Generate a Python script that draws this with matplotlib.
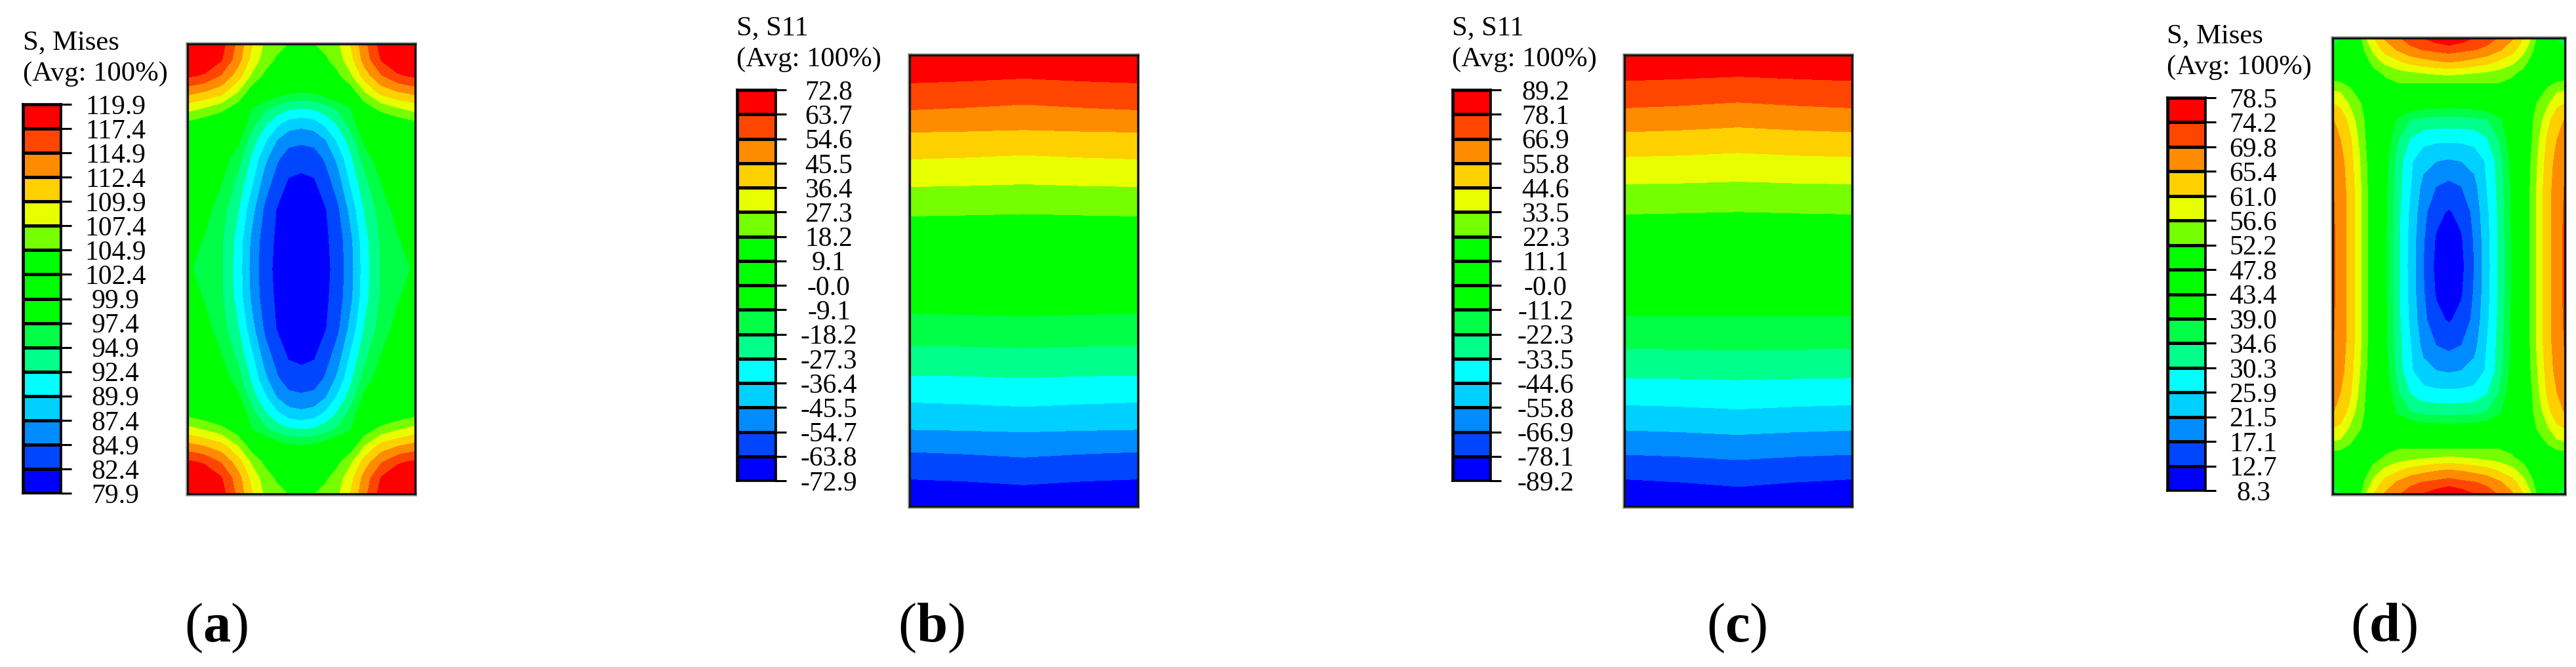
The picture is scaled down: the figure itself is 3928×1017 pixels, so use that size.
# - - - - - - - - - - - - - - - - - - - - - - - - - - - - - - - - -
# IMPORTS
# - - - - - - - - - - - - - - - - - - - - - - - - - - - - - - - - -

import numpy as np
import matplotlib
matplotlib.use('Agg')
import matplotlib.pyplot as plt
from matplotlib.patches import Rectangle

# - - - - - - - - - - - - - - - - - - - - - - - - - - - - - - - - -
# DATA
# - - - - - - - - - - - - - - - - - - - - - - - - - - - - - - - - -

# legend colours, top band to bottom band
BANDS = ['#ff0000', '#ff4600', '#ff8b00', '#ffd000', '#e8ff00', '#75ff00',
         '#00ff00', '#00ff00', '#00ff00', '#00ff46', '#00ff8b', '#00ffff',
         '#00d0ff', '#008bff', '#0046ff', '#0000ff']

labels_a = ['119.9', '117.4', '114.9', '112.4', '109.9', '107.4', '104.9', '102.4', '99.9',
            '97.4', '94.9', '92.4', '89.9', '87.4', '84.9', '82.4', '79.9']
labels_b = ['72.8', '63.7', '54.6', '45.5', '36.4', '27.3', '18.2', '9.1', '-0.0',
            '-9.1', '-18.2', '-27.3', '-36.4', '-45.5', '-54.7', '-63.8', '-72.9']
labels_c = ['89.2', '78.1', '66.9', '55.8', '44.6', '33.5', '22.3', '11.1', '-0.0',
            '-11.2', '-22.3', '-33.5', '-44.6', '-55.8', '-66.9', '-78.1', '-89.2']
labels_d = ['78.5', '74.2', '69.8', '65.4', '61.0', '56.6', '52.2', '47.8', '43.4',
            '39.0', '34.6', '30.3', '25.9', '21.5', '17.1', '12.7', '8.3']

# (a) Mises, top left quarter: columns edge -> centre, rows top -> centre
a_x = [0, 50, 100, 150, 190, 230, 265, 300, 338]
a_y = [0, 50, 100, 150, 200, 250, 300, 360, 430, 520, 620, 708]
a_vals = [[119.9, 119.9, 118.5, 114.2, 110.2, 106.9, 105.7, 104.8, 104.0],
          [119.9, 119.9, 117.6, 113.4, 109.2, 106.1, 104.5, 103.8, 103.5],
          [117.9, 117.0, 114.7, 111.1, 107.0, 104.3, 103.0, 101.5, 100.5],
          [113.4, 112.4, 111.0, 107.4, 103.5, 100.5, 99.0, 98.0, 97.6],
          [108.6, 107.4, 106.0, 103.5, 97.5, 95.5, 94.0, 93.0, 92.6],
          [104.2, 103.2, 102.0, 100.0, 96.0, 92.8, 90.6, 88.8, 88.2],
          [102.5, 102.0, 100.5, 98.2, 93.8, 90.5, 87.5, 85.8, 85.5],
          [102.0, 101.0, 99.0, 96.0, 92.0, 88.0, 85.3, 83.7, 83.3],
          [101.5, 100.0, 97.6, 94.3, 90.5, 86.2, 83.9, 82.2, 81.9],
          [100.0, 98.4, 96.1, 92.6, 88.3, 84.4, 82.3, 81.7, 81.4],
          [98.5, 97.2, 95.3, 91.4, 86.9, 83.5, 82.0, 81.1, 80.6],
          [97.8, 96.4, 95.2, 91.2, 86.6, 83.3, 81.8, 80.9, 79.9]]

# (b) S11, left half: columns edge, quarter, centre
b_y = [95, 182, 266, 336, 420, 506, 598, 750, 902, 1003, 1095, 1180, 1265, 1335, 1420, 1505]
b_edge = [72.8, 63.7, 54.6, 45.5, 36.4, 27.3, 18.2, 4.5, -9.1, -18.2, -27.3, -36.4, -45.5, -54.7, -63.8, -72.9]
b_quarter = [72.8, 63.0, 53.8, 45.1, 35.8, 27.0, 17.9, 4.5, -8.8, -18.0, -27.0, -35.8, -45.1, -54.0, -63.1, -71.9]
b_centre = [72.8, 61.9, 52.7, 44.6, 34.9, 26.5, 17.5, 4.5, -8.4, -17.6, -26.5, -34.9, -44.6, -52.9, -62.0, -70.5]

# (c) S11, left half
c_y = [95, 175, 260, 335, 413, 498, 592, 750, 910, 1012, 1103, 1188, 1267, 1343, 1420, 1505]
c_edge = [89.2, 78.1, 66.9, 55.8, 44.6, 33.5, 22.3, 5.5, -11.2, -22.3, -33.5, -44.6, -55.8, -66.9, -78.1, -89.2]
c_quarter = [89.2, 77.2, 65.9, 54.9, 43.9, 33.1, 21.9, 5.5, -11.2, -22.1, -33.2, -43.9, -55.0, -66.0, -76.9, -87.9]
c_centre = [89.2, 75.9, 64.5, 53.6, 42.8, 32.5, 21.4, 5.5, -11.2, -21.7, -32.7, -42.8, -53.8, -64.7, -75.1, -86.0]

# (d) Mises, top left quarter
d_x = [0, 25, 50, 75, 100, 130, 165, 205, 245, 285, 325, 365]
d_y = [0, 36, 76, 116, 156, 206, 256, 316, 386, 466, 546, 631, 716]
d_vals = [[37.0, 38.8, 42.0, 47.0, 55.6, 61.0, 65.8, 69.2, 71.8, 74.2, 76.5, 78.5],
          [39.5, 40.0, 41.5, 45.5, 52.5, 58.0, 62.8, 66.0, 68.7, 70.0, 70.8, 71.8],
          [43.0, 43.0, 43.5, 45.0, 49.5, 54.0, 57.5, 60.0, 62.3, 63.6, 64.7, 65.4],
          [49.0, 48.5, 47.0, 46.5, 47.5, 50.0, 52.5, 54.0, 54.7, 55.5, 56.2, 56.7],
          [55.6, 55.0, 52.5, 50.5, 50.0, 50.3, 50.6, 51.0, 50.8, 50.3, 49.8, 49.6],
          [61.0, 60.0, 56.5, 53.5, 51.2, 49.5, 47.5, 45.0, 42.8, 41.8, 41.4, 41.3],
          [65.6, 63.6, 60.0, 55.7, 52.0, 48.4, 44.5, 38.0, 34.6, 33.5, 33.2, 33.0],
          [67.2, 65.3, 62.6, 57.6, 52.6, 48.2, 42.5, 35.0, 30.0, 27.5, 27.0, 26.9],
          [69.4, 66.8, 63.5, 59.0, 53.5, 48.0, 41.0, 32.5, 26.5, 23.0, 21.6, 21.0],
          [70.0, 67.6, 64.2, 59.8, 54.2, 47.8, 40.2, 32.0, 26.0, 20.0, 17.1, 15.9],
          [70.4, 67.7, 64.3, 59.9, 54.4, 47.8, 40.0, 31.6, 24.9, 18.4, 13.8, 12.3],
          [70.6, 67.7, 64.3, 59.9, 54.4, 47.7, 39.8, 31.3, 24.3, 17.5, 12.3, 10.3],
          [70.6, 67.7, 64.3, 59.9, 54.4, 47.6, 39.7, 31.3, 24.1, 17.1, 11.5, 8.3]]

# - - - - - - - - - - - - - - - - - - - - - - - - - - - - - - - - -
# LAYOUT -- pixel boxes (left, top, right, bottom)
# - - - - - - - - - - - - - - - - - - - - - - - - - - - - - - - - -

W, H = 3928, 1017
FONT = 'Liberation Serif'
TEXT_SIZE = 30
CAPTION_SIZE = 30.7
LETTER_SIZE = 61

plt.rcParams['font.family'] = FONT
plt.rcParams['mathtext.fontset'] = 'custom'
plt.rcParams['mathtext.rm'] = FONT
plt.rcParams['mathtext.bf'] = FONT + ':bold'


def add_axes(fig, box):
    left, top, right, bottom = box
    return fig.add_axes([left / W, 1 - bottom / H, (right - left) / W, (bottom - top) / H])


def mirror_quarter(vals):
    """ quarter grid -> full grid, both ways """
    vals = np.array(vals)
    half = np.hstack([vals, vals[:, -2::-1]])
    return np.vstack([half, half[-2::-1, :]])


def quarter_grid(xs, ys):
    xs = np.array(xs, dtype=float) / xs[-1] / 2
    ys = np.array(ys, dtype=float) / ys[-1] / 2
    return np.concatenate([xs, 1 - xs[-2::-1]]), np.concatenate([ys, 1 - ys[-2::-1]])


def half_grid(ys, edge, quarter, centre):
    ys = np.array(ys, dtype=float)
    ys = (ys - ys[0]) / (ys[-1] - ys[0])
    vals = np.array([edge, quarter, centre, quarter, edge]).T
    return np.array([0, 0.25, 0.5, 0.75, 1]), ys, vals


# - - - - - - - - - - - - - - - - - - - - - - - - - - - - - - - - -
# PLOT
# - - - - - - - - - - - - - - - - - - - - - - - - - - - - - - - - -


def draw_contour(fig, box, xs, ys, vals, labels):
    # grey halo round the black frame
    left, top, right, bottom = box
    fig.add_artist(Rectangle(((left - 3) / W, 1 - (bottom + 4) / H), (right - left + 6) / W, (bottom - top + 7) / H,
                             transform=fig.transFigure, facecolor='#b4b4b4', edgecolor='none', zorder=-1))

    ax = add_axes(fig, box)
    levels = [float(s) for s in labels][::-1]
    colors = BANDS[::-1]
    ax.contourf(xs, ys, vals, levels=levels, colors=[colors[0]] + colors + [colors[-1]],
                extend='both', antialiased=False)
    ax.set_xlim(0, 1)
    ax.set_ylim(1, 0)
    ax.set_xticks([])
    ax.set_yticks([])
    for spine in ax.spines.values():
        spine.set_linewidth(2.4)
        spine.set_color('#151515')


def draw_legend(fig, box, labels, label_centre):
    ax = add_axes(fig, box)
    n = len(BANDS)
    cells = np.arange(n).reshape(n, 1)
    cmap = matplotlib.colors.ListedColormap(BANDS)
    ax.pcolormesh([0, 1], np.arange(n + 1), cells, cmap=cmap, edgecolors='black', linewidth=2.2)
    ax.set_xlim(0, 1)
    ax.set_ylim(n, 0)
    ax.set_xticks([])
    ax.yaxis.tick_right()
    ax.set_yticks(np.arange(n + 1))
    ax.set_yticklabels(labels)
    # 16 px ticks, labels centred on one line
    pad = (label_centre - box[2] - 16) * 0.72
    ax.tick_params(axis='y', length=11.5, width=2.2, pad=pad, labelsize=TEXT_SIZE)
    for lbl in ax.get_yticklabels():
        lbl.set_ha('center')
    for spine in ax.spines.values():
        spine.set_linewidth(2.6)


def draw_caption(fig, x, base_1, base_2, first):
    fig.text(x / W, 1 - base_1 / H, first, fontsize=CAPTION_SIZE, va='baseline', ha='left')
    fig.text(x / W, 1 - base_2 / H, '(Avg: 100%)', fontsize=CAPTION_SIZE, va='baseline', ha='left')


def plot_all():
    fig = plt.figure(figsize=(W / 100, H / 100), dpi=100, facecolor='white')

    # (a)
    xs, ys = quarter_grid(a_x, a_y)
    draw_contour(fig, (286, 67, 633, 753), xs, ys, mirror_quarter(a_vals), labels_a)
    draw_legend(fig, (35, 159, 93, 752), labels_a, 176)
    draw_caption(fig, 35, 75, 123, 'S, Mises')

    # (b)
    xs, ys, vals = half_grid(b_y, b_edge, b_quarter, b_centre)
    draw_contour(fig, (1387, 84, 1735, 772), xs, ys, vals, labels_b)
    draw_legend(fig, (1124, 137, 1183, 733), labels_b, 1264)
    draw_caption(fig, 1123, 53, 101, 'S, S11')

    # (c)
    xs, ys, vals = half_grid(c_y, c_edge, c_quarter, c_centre)
    draw_contour(fig, (2477, 84, 2824, 772), xs, ys, vals, labels_c)
    draw_legend(fig, (2215, 137, 2273, 733), labels_c, 2357)
    draw_caption(fig, 2214, 53, 101, 'S, S11')

    # (d)
    xs, ys = quarter_grid(d_x, d_y)
    draw_contour(fig, (3557, 58, 3911, 753), xs, ys, mirror_quarter(d_vals), labels_d)
    draw_legend(fig, (3305, 149, 3363, 748), labels_d, 3436)
    draw_caption(fig, 3304, 65, 113, 'S, Mises')

    # sub figure letters
    for letter, x in zip('abcd', [330, 1420, 2648, 3635]):
        fig.text(x / W, 1 - 978 / H, '(' + r'$\mathbf{' + letter + '}$' + ')',
                 fontsize=LETTER_SIZE, ha='center', va='baseline')

    fig.savefig('out.png', dpi=100)


# - - - - - - - - - - - - - - - - - - - - - - - - - - - - - - - - -
# MAIN
# - - - - - - - - - - - - - - - - - - - - - - - - - - - - - - - - -

if __name__ == "__main__":
    plot_all()
